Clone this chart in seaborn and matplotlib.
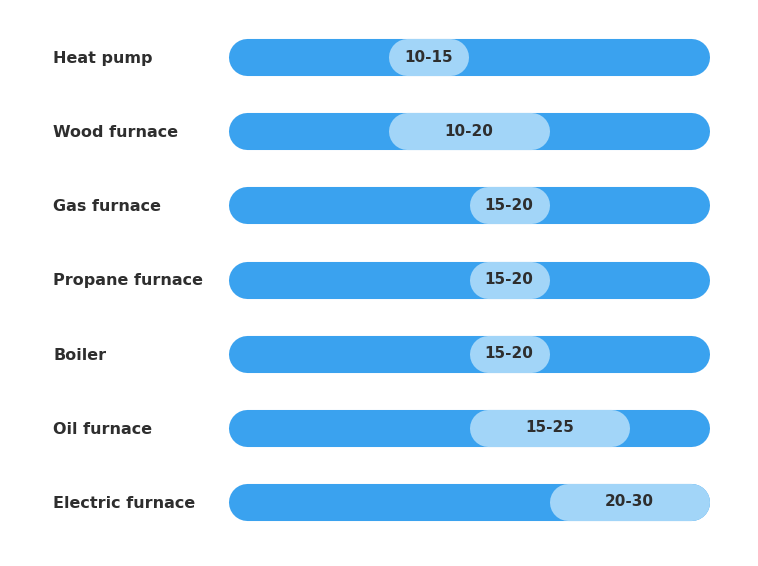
import numpy as np
import pandas as pd
import matplotlib
matplotlib.use("Agg")
import matplotlib.pyplot as plt
import seaborn as sns

# Lifespan (years) of heating systems
systems = ["Heat pump", "Wood furnace", "Gas furnace", "Propane furnace",
           "Boiler", "Oil furnace", "Electric furnace"]
low = [10, 10, 15, 15, 15, 15, 20]
high = [15, 20, 20, 20, 20, 25, 30]
scale_max = 30

track_color = "#3aa2ef"
range_color = "#a2d5f8"
text_color = "#2e2e2e"

sns.set_theme(style="white")
plt.rcParams["font.family"] = ["DejaVu Sans"]

df = pd.DataFrame({"system": systems, "low": low, "high": high})
df["track"] = scale_max

fig = plt.figure(figsize=(7.58, 5.66), dpi=100)
ax = fig.add_axes([228 / 758, 27 / 566, 482 / 758, 519 / 566])

# background track and the lifespan range on top
sns.barplot(data=df, x="track", y="system", color=track_color, width=0.5,
            ax=ax, saturation=1)
ax.barh(np.arange(len(systems)), df["high"] - df["low"], left=df["low"],
        height=0.5, color=range_color)

ax.set_xlim(0, scale_max)
ax.set_ylim(len(systems) - 0.5, -0.5)

# turn each bar into a pill: a thick line with round caps
px_x = ax.transData.transform((1, 0))[0] - ax.transData.transform((0, 0))[0]
px_y = abs(ax.transData.transform((0, 1))[1] - ax.transData.transform((0, 0))[1])
for k, p in enumerate(list(ax.patches)):
    x, y = p.get_x(), p.get_y()
    w, h = p.get_width(), p.get_height()
    h_px = h * px_y
    r_x = h_px / 2 / px_x
    ax.plot([x + r_x, x + w - r_x], [y + h / 2, y + h / 2],
            color=p.get_facecolor(), lw=h_px * 72 / fig.dpi,
            solid_capstyle="round", zorder=2 + k // len(systems))
    p.remove()

for i, (lo, hi) in enumerate(zip(low, high)):
    ax.text((lo + hi) / 2, i, f"{lo}-{hi}", ha="center", va="center",
            fontsize=11, fontweight="bold", color=text_color, zorder=5)

ax.set_xlabel("")
ax.set_ylabel("")
ax.set_xticks([])
ax.tick_params(axis="y", length=0, pad=126)
for lbl in ax.get_yticklabels():
    lbl.set_ha("left")
    lbl.set_fontsize(11.5)
    lbl.set_fontweight("bold")
    lbl.set_color(text_color)
sns.despine(ax=ax, left=True, bottom=True)

fig.savefig("out.png", dpi=100, facecolor="white")
